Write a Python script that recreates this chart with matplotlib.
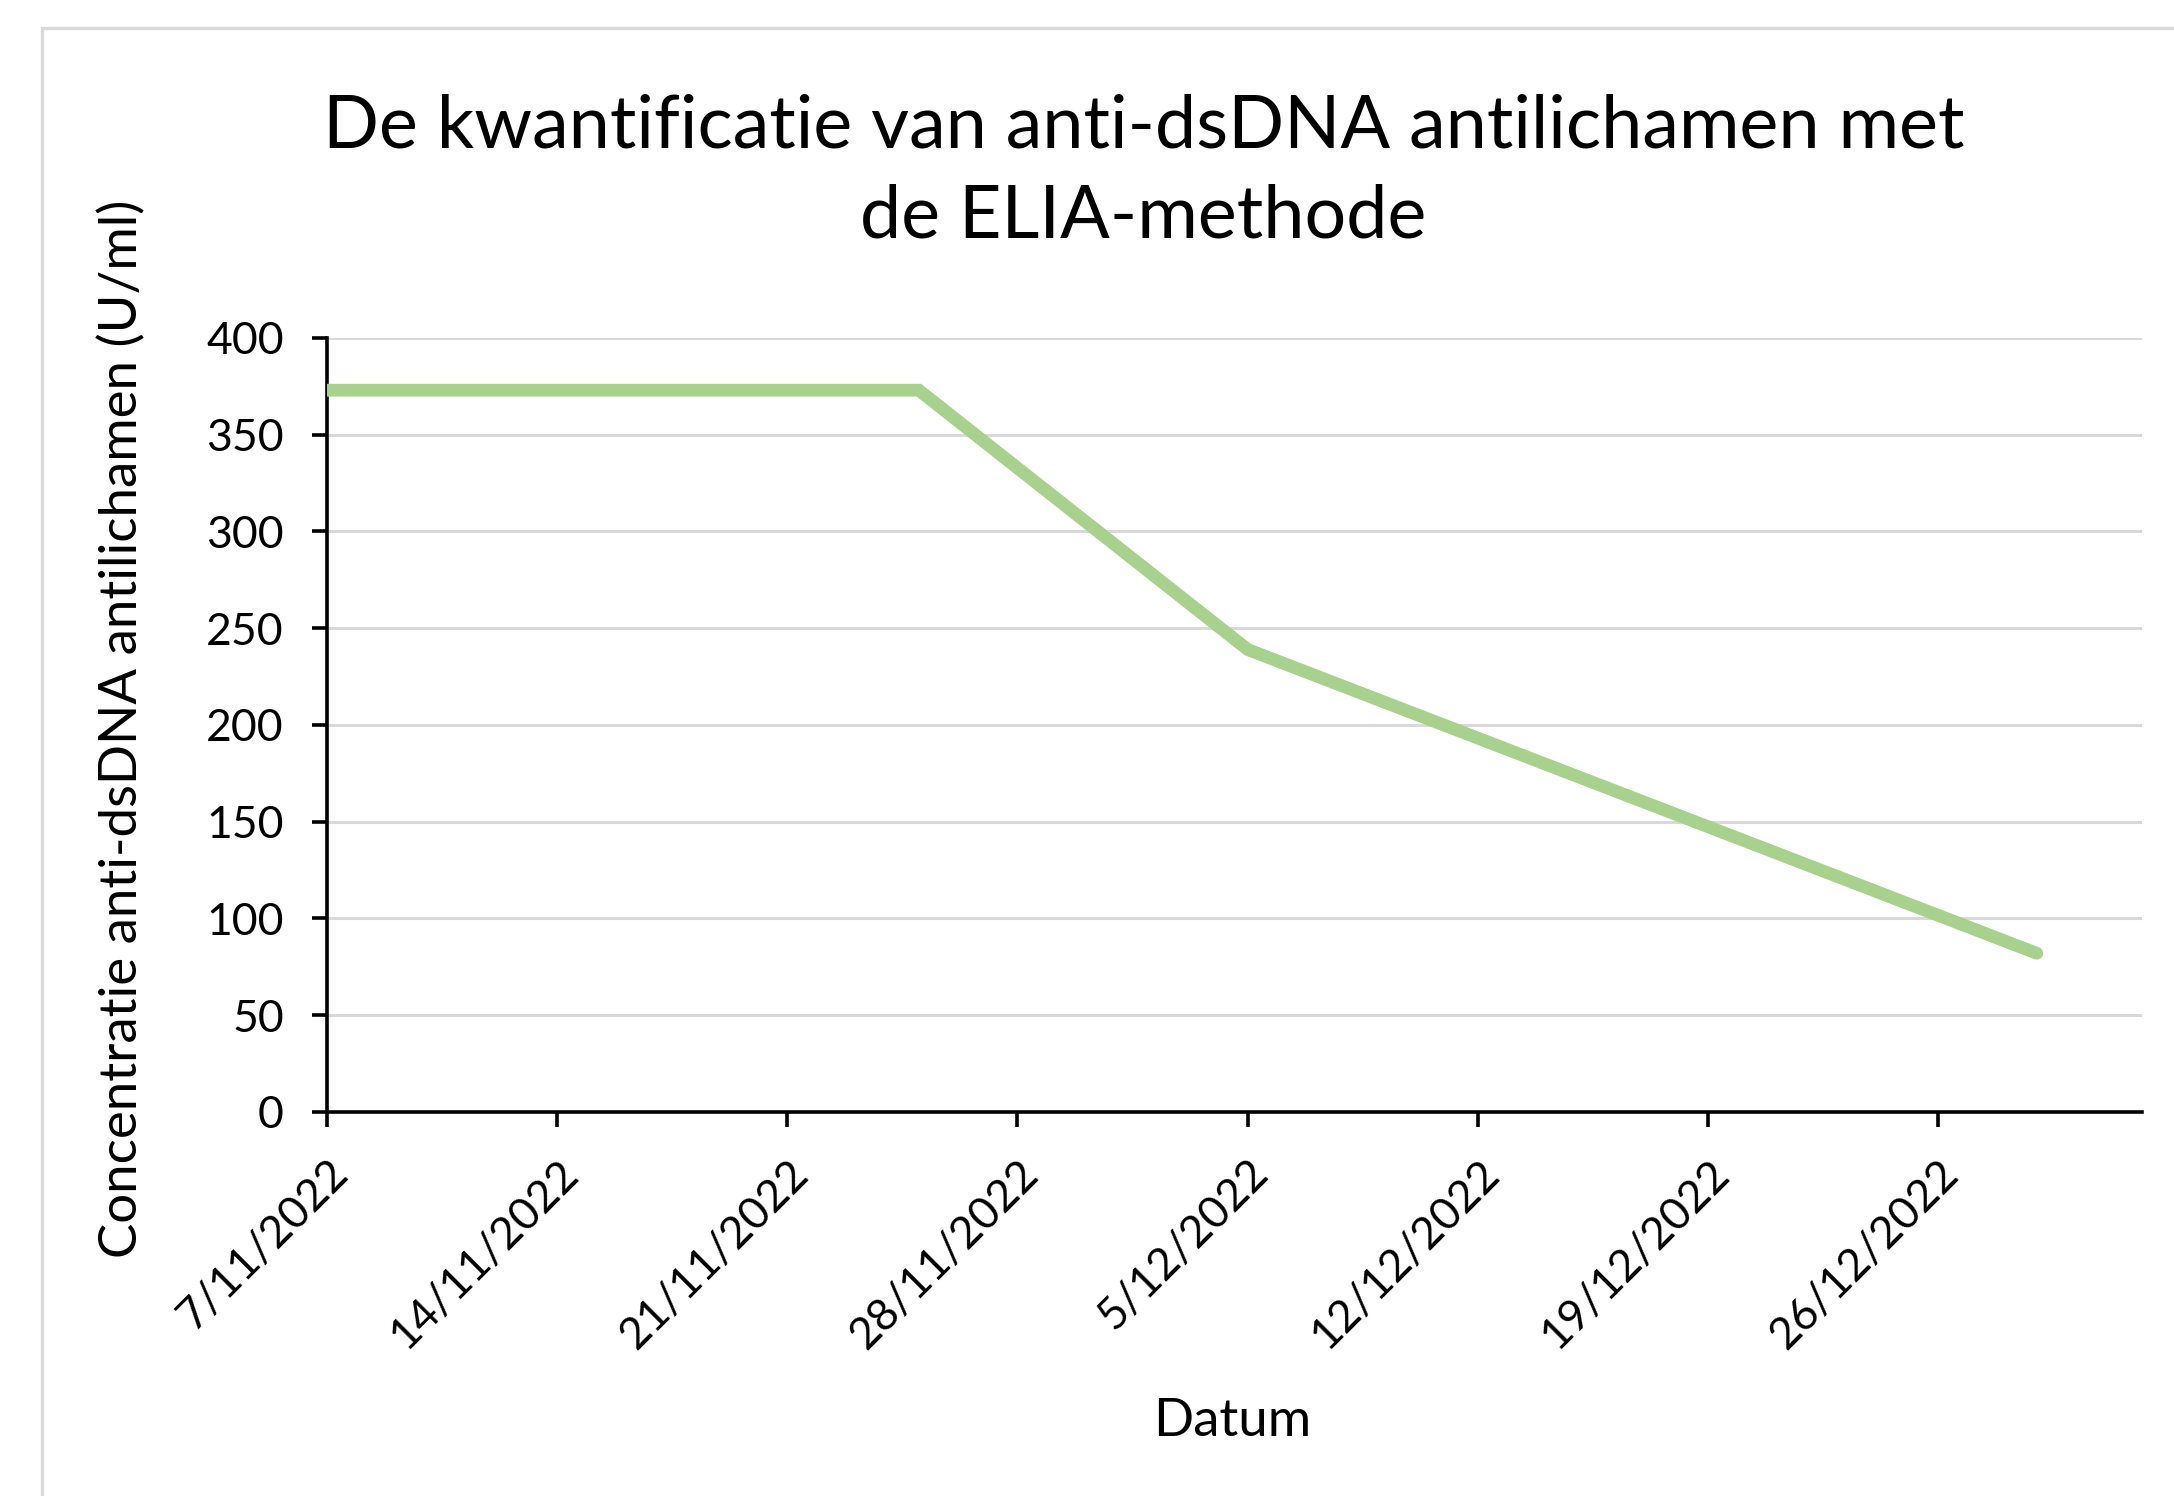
import datetime as dt
import matplotlib
matplotlib.use('Agg')
import matplotlib.pyplot as plt
import matplotlib.dates as mdates
from matplotlib.patches import Rectangle

plt.rcParams['font.family'] = ['Lato', 'DejaVu Sans']

# data
datums = [dt.date(2022, 11, 7), dt.date(2022, 11, 25), dt.date(2022, 12, 5), dt.date(2022, 12, 29)]
concentratie = [373, 373, 239, 82]

tick_datums = [dt.date(2022, 11, 7) + dt.timedelta(days=7 * i) for i in range(8)]
tick_labels = ['7/11/2022', '14/11/2022', '21/11/2022', '28/11/2022',
               '5/12/2022', '12/12/2022', '19/12/2022', '26/12/2022']
y_ticks = [0, 50, 100, 150, 200, 250, 300, 350, 400]

fig = plt.figure(figsize=(10.87, 7.48), dpi=200)
ax = fig.add_axes([0.1504, 0.2567, 0.8349, 0.5174])

# kader rond de grafiek (licht grijs)
fig.patches.append(Rectangle((0.0195, -0.1), 1.2, 1.081, transform=fig.transFigure,
                             fill=False, edgecolor='#D9D9D9', linewidth=1.2))

ax.plot(datums, concentratie, color='#A9D18E', linewidth=4.6,
        solid_capstyle='round', solid_joinstyle='miter', zorder=3)

ax.set_xlim(mdates.date2num(dt.date(2022, 11, 7)), mdates.date2num(dt.date(2022, 11, 7)) + 55.2)
ax.set_ylim(0, 400)
ax.set_yticks(y_ticks)
ax.set_xticks(mdates.date2num(tick_datums))
ax.set_xticklabels(tick_labels, rotation=45, ha='right', rotation_mode='anchor')

ax.grid(axis='y', color='#D9D9D9', linewidth=1.1)
ax.set_axisbelow(True)
for s in ['top', 'right']:
    ax.spines[s].set_visible(False)
for s in ['left', 'bottom']:
    ax.spines[s].set_linewidth(1.3)
    ax.spines[s].set_color('black')
ax.tick_params(axis='both', direction='out', length=5.5, width=1.3, labelsize=16, color='black')
ax.tick_params(axis='y', pad=10)
ax.tick_params(axis='x', pad=9)

fig.text(0.526, 0.8851, 'De kwantificatie van anti-dsDNA antilichamen met\nde ELIA-methode',
         ha='center', va='center', fontsize=26.5, linespacing=1.42)
fig.text(0.567, 0.050, 'Datum', ha='center', va='center', fontsize=19)
fig.text(0.056, 0.513, 'Concentratie anti-dsDNA antilichamen (U/ml)', ha='center', va='center',
         rotation=90, fontsize=19)

fig.savefig('out.png', dpi=200, facecolor='white')
